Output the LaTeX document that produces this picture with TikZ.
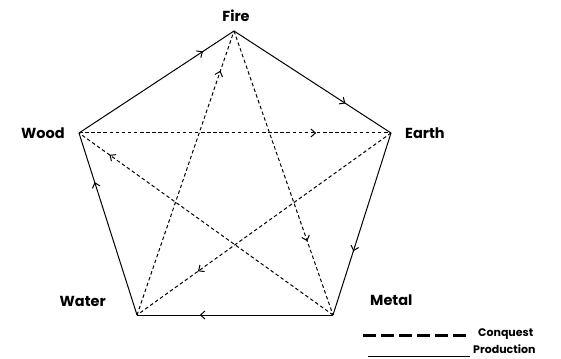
\documentclass[tikz,border=0pt]{standalone}
\usepackage{fontspec}
\setmainfont{Poppins}
\usetikzlibrary{arrows.meta,decorations.markings}

\tikzset{
  flow/.style={line width=1pt, postaction={decorate},
    decoration={markings, mark=at position #1 with {\arrow[solid]{Straight Barb[length=4.5pt,width=8pt]}}}},
  prod/.style={flow=#1},
  conq/.style={flow=#1, dash pattern=on 3.5pt off 2.6pt},
  elem/.style={font=\bfseries\fontsize{14.5}{16}\selectfont, inner sep=0pt},
  legtext/.style={font=\bfseries\fontsize{11}{12}\selectfont, inner sep=0pt, anchor=west},
}

\begin{document}
\begin{tikzpicture}[x=1pt,y=-1pt]
\useasboundingbox (0,0) rectangle (561,358);

% the five elements
\coordinate (fire)  at (234,31);
\coordinate (earth) at (391,133);
\coordinate (metal) at (333,315);
\coordinate (water) at (137,315);
\coordinate (wood)  at (79,133);

\node[elem] (firel)  at (236,16) {Fire};
\node[elem, anchor=west] (earthl) at (405,133) {Earth};
\node[elem, anchor=west] (metall) at (370,300) {Metal};
\node[elem, anchor=east] (waterl) at (106,301) {Water};
\node[elem, anchor=east] (woodl)  at (65,133) {Wood};

% production cycle
\draw[prod=0.71] (fire) -- (earth);
\draw[prod=0.65] (earth) -- (metal);
\draw[prod=0.68] (metal) -- (water);
\draw[prod=0.73] (water) -- (wood);
\draw[prod=0.80] (wood) -- (fire);

% conquest cycle
\draw[conq=0.76] (wood) -- (earth);
\draw[conq=0.76] (earth) -- (water);
\draw[conq=0.86] (water) -- (fire);
\draw[conq=0.74] (fire) -- (metal);
\draw[conq=0.88] (metal) -- (wood);

% legend
\coordinate (ca) at (363,335);
\coordinate (cb) at (470,335);
\coordinate (pa) at (368,356);
\coordinate (pb) at (470,356);
\draw[line width=3pt, dash pattern=on 13pt off 5pt] (ca) -- (cb);
\draw[line width=1pt] (pa) -- (pb);
\node[legtext] (conql) at (478,334) {Conquest};
\node[legtext] (prodl) at (473,349) {Production};
\end{tikzpicture}
\end{document}
